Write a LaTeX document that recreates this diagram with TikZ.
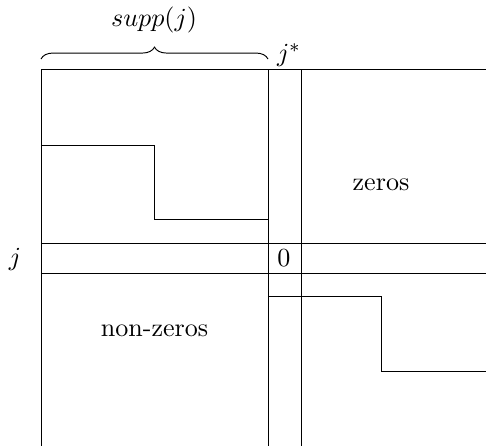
\documentclass[tikz,border=0pt]{standalone}
\usetikzlibrary{decorations.pathreplacing}
\begin{document}
\begin{tikzpicture}[x=0.42pt,y=-0.42pt,
  grid/.style={line width=0.4pt},
  lbl/.style={inner sep=0pt, font=\fontsize{10.95}{13.6}\selectfont}]
\useasboundingbox (0,0) rectangle (486,446);
% coordinates
\coordinate (TL) at (41,69);
\coordinate (TR) at (486,69);
\coordinate (BL) at (41,446);
\coordinate (C1T) at (268,69);
\coordinate (C1B) at (268,446);
\coordinate (C2T) at (301,69);
\coordinate (C2B) at (301,446);
\coordinate (R1L) at (41,243);
\coordinate (R1R) at (486,243);
\coordinate (R2L) at (41,273);
\coordinate (R2R) at (486,273);
% frame
\draw[grid] (BL) -- (TL) -- (TR);
\draw[grid] (C1T) -- (C1B);
\draw[grid] (C2T) -- (C2B);
\draw[grid] (R1L) -- (R1R);
\draw[grid] (R2L) -- (R2R);
% staircases
\coordinate (S1a) at (41,145);
\coordinate (S1b) at (154,145);
\coordinate (S1c) at (154,219);
\coordinate (S1d) at (268,219);
\draw[grid] (S1a) -- (S1b) -- (S1c) -- (S1d);
\coordinate (S2a) at (268,296);
\coordinate (S2b) at (381,296);
\coordinate (S2c) at (381,371);
\coordinate (S2d) at (486,371);
\draw[grid] (S2a) -- (S2b) -- (S2c) -- (S2d);
% brace
\coordinate (BrL) at (41,59);
\coordinate (BrR) at (268,59);
\draw[grid, decorate, decoration={brace, amplitude=5pt}] (BrL) -- (BrR);
\node[lbl] (supp) at (154,20) {$supp(j)$};
% labels
\node[lbl] (jstar) at (289,55) {$j^*$};
\node[lbl] (jlab) at (15,259) {$j$};
\node[lbl] (zero) at (284,258) {$0$};
\node[lbl] (zeros) at (381,185) {zeros};
\node[lbl] (nonzeros) at (154.5,331) {non-zeros};
\end{tikzpicture}
\end{document}
